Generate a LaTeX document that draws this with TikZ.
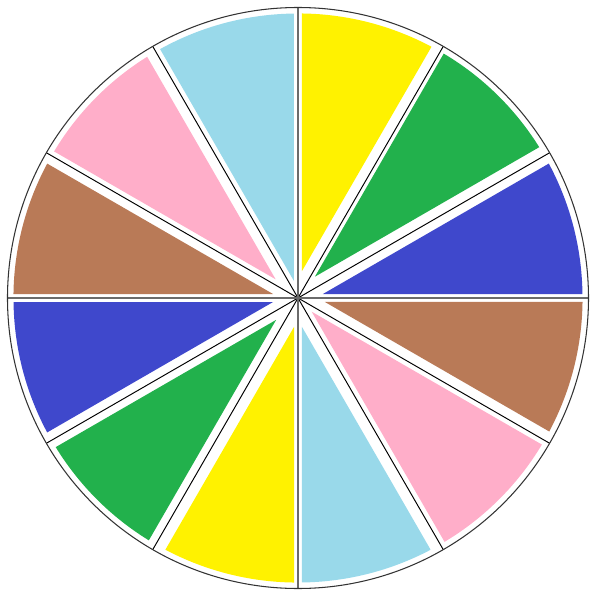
\documentclass[tikz,border=0pt]{standalone}
\definecolor{pyellow}{HTML}{FFF200}
\definecolor{pgreen}{HTML}{22B14C}
\definecolor{pblue}{HTML}{3F48CC}
\definecolor{pbrown}{HTML}{B97A57}
\definecolor{ppink}{HTML}{FFAEC9}
\definecolor{plblue}{HTML}{99D9EA}
\begin{document}
\begin{tikzpicture}[
      spoke/.style={draw=black, line width=0.55pt},
      axisline/.style={draw=black!58, line width=1.2pt},
      rim/.style={draw=black!80, line width=0.6pt}
    ]
    \useasboundingbox (-5.96,-6.04) rectangle (6.04,5.96);
    % start angle / colour / gap to first spoke / gap to second spoke (px)
    \foreach \a/\c/\da/\db in {60/pyellow/10/4, 30/pgreen/10/4, 0/pblue/4/9,
        -30/pbrown/10/4, -60/ppink/5/5, -90/plblue/4/11,
        -120/pyellow/11/4, -150/pgreen/8/8, 180/pblue/4/9,
        150/pbrown/9/4, 120/ppink/10/5, 90/plblue/4/5} {
      \begin{scope}[rotate=\a]
        \clip (0,0) circle (5.69);
        \pgfmathsetmacro\xa{0.04*\db+0.03464*\da}
        \pgfmathsetmacro\ya{0.02*\da}
        \fill[\c] (\xa,\ya) -- +(0:13) -- +(30:13) -- cycle;
      \end{scope}
    }
    \foreach \a in {30,60,120,150,210,240,300,330}
      \draw[spoke] (0,0) -- (\a:5.81);
    \draw[axisline] (0,-5.81) -- (0,5.81);
    \draw[axisline] (-5.81,0) -- (5.81,0);
    \draw[rim] (0,0) circle (5.81);
  \end{tikzpicture}
\end{document}
